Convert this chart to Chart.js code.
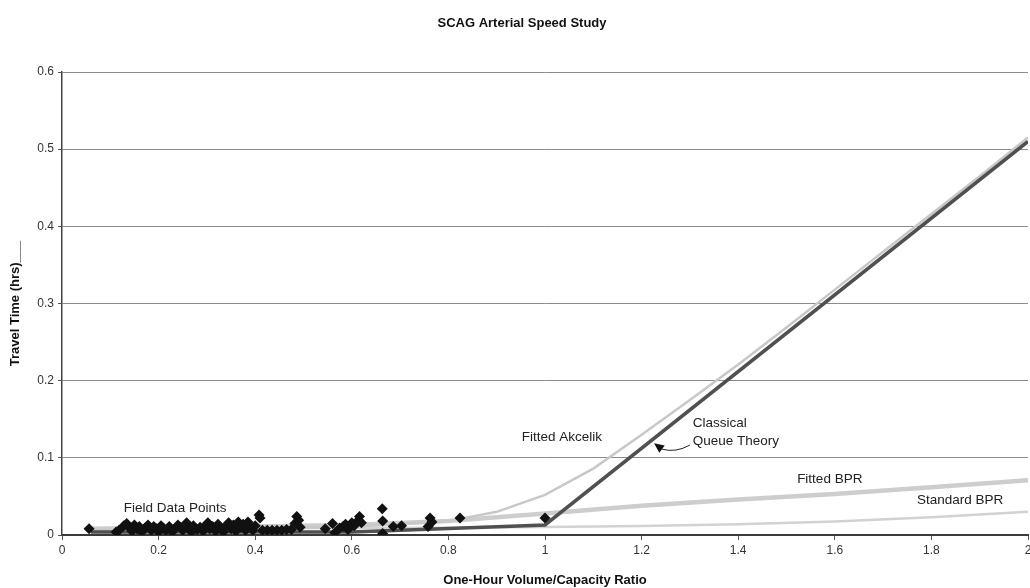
<!DOCTYPE html>
<html>
<head>
<meta charset="utf-8">
<title>SCAG Arterial Speed Study</title>
<script src="https://cdn.jsdelivr.net/npm/chart.js@4.4.0/dist/chart.umd.min.js"></script>
<style>
  html, body { margin: 0; padding: 0; background: #fff; overflow: hidden; }
  #wrap { width: 1030px; height: 588px; overflow: hidden; }
  canvas { display: block; }
</style>
</head>
<body>
<div id="wrap"><canvas id="speedChart" width="1040" height="588"></canvas></div>
<script>
// observed v/c ratio and travel time (hrs)
const fieldX = [0.056, 0.112, 0.118, 0.128, 0.134, 0.14, 0.145, 0.15, 0.155, 0.16, 0.165, 0.172, 0.178, 0.185,
  0.19, 0.196, 0.2, 0.205, 0.21, 0.215, 0.222, 0.228, 0.234, 0.24, 0.245, 0.25, 0.258, 0.262, 0.268, 0.272,
  0.28, 0.286, 0.292, 0.298, 0.302, 0.306, 0.312, 0.318, 0.323, 0.328, 0.334, 0.34, 0.345, 0.35, 0.355,
  0.36, 0.365, 0.37, 0.375, 0.38, 0.385, 0.39, 0.395, 0.4, 0.408, 0.41, 0.415, 0.425, 0.435, 0.445, 0.455,
  0.465, 0.475, 0.482, 0.486, 0.49, 0.493, 0.545, 0.56, 0.565, 0.575, 0.582, 0.587, 0.592, 0.6, 0.605,
  0.612, 0.616, 0.62, 0.663, 0.664, 0.664, 0.686, 0.703, 0.758, 0.762, 0.766, 0.824, 1.0];
const fieldY = [0.008, 0.004, 0.006, 0.012, 0.015, 0.009, 0.005, 0.013, 0.008, 0.011, 0.004, 0.009, 0.013, 0.006,
  0.011, 0.008, 0.004, 0.012, 0.009, 0.006, 0.011, 0.004, 0.008, 0.013, 0.01, 0.006, 0.016, 0.009, 0.004, 0.012,
  0.007, 0.01, 0.005, 0.013, 0.016, 0.008, 0.011, 0.005, 0.014, 0.009, 0.004, 0.012, 0.016, 0.008, 0.013,
  0.005, 0.017, 0.01, 0.014, 0.006, 0.017, 0.011, 0.006, 0.012, 0.026, 0.022, 0.006, 0.006, 0.006, 0.006, 0.006,
  0.007, 0.007, 0.015, 0.024, 0.019, 0.01, 0.008, 0.015, 0.003, 0.009, 0.011, 0.014, 0.007, 0.016, 0.012,
  0.018, 0.024, 0.016, 0.034, 0.018, 0.002, 0.011, 0.012, 0.011, 0.022, 0.017, 0.022, 0.022];

const queueX = [0.06, 0.6, 1.0, 2.0];
const queueY = [0.004, 0.004, 0.013, 0.51];

const akcelikX = [0.06, 0.4, 0.6, 0.7, 0.8, 0.9, 1.0, 1.1, 1.2, 1.3, 1.4, 1.5, 1.6, 1.7, 1.8, 1.9, 2.0];
const akcelikY = [0.006, 0.008, 0.011, 0.014, 0.018, 0.03, 0.052, 0.086, 0.13, 0.175, 0.221, 0.269, 0.318, 0.367, 0.416, 0.465, 0.515];

const fittedBprX = [0.06, 0.2, 0.4, 0.6, 0.8, 1.0, 1.2, 1.4, 1.6, 1.8, 2.0];
const fittedBprY = [0.008, 0.009, 0.011, 0.013, 0.018, 0.028, 0.038, 0.046, 0.053, 0.062, 0.071];

const standardBprX = [0.06, 0.6, 0.8, 1.0, 1.2, 1.4, 1.6, 1.8, 2.0];
const standardBprY = [0.0085, 0.009, 0.0095, 0.0103, 0.0117, 0.014, 0.0175, 0.023, 0.03];

const xTicks = [0, 0.2, 0.4, 0.6, 0.8, 1, 1.2, 1.4, 1.6, 1.8, 2];
const yTicks = [0, 0.1, 0.2, 0.3, 0.4, 0.5, 0.6];

const chartTitle = 'SCAG Arterial Speed Study';

// curve labels, anchored in data units (left edge, vertical middle)
const notes = [
  { text: 'Field Data Points', x: 0.128, y: 0.035 },
  { text: 'Fitted Akcelik', x: 0.952, y: 0.127 },
  { text: 'Classical', x: 1.306, y: 0.145 },
  { text: 'Queue Theory', x: 1.306, y: 0.122 },
  { text: 'Fitted BPR', x: 1.522, y: 0.0725 },
  { text: 'Standard BPR', x: 1.77, y: 0.045 }
];
const queueArrow = { fromX: 1.3, fromY: 0.1166, toX: 1.2257, toY: 0.119 };

const FONT = '"Liberation Sans", Arial, sans-serif';

function pairs(xs, ys) {
  return xs.map((x, i) => ({ x: x, y: ys[i] }));
}

function curve(label, xs, ys, color, width) {
  return {
    type: 'line',
    label: label,
    data: pairs(xs, ys),
    borderColor: color,
    borderWidth: width,
    pointRadius: 0,
    tension: 0,
    fill: false
  };
}

const labelPlugin = {
  id: 'curveLabels',
  afterDatasetsDraw(chart) {
    const ctx = chart.ctx;
    const xs = chart.scales.x, ys = chart.scales.y;
    ctx.save();

    // chart title
    ctx.font = 'bold 13px ' + FONT;
    ctx.fillStyle = '#111';
    ctx.textAlign = 'center';
    ctx.textBaseline = 'middle';
    ctx.fillText(chartTitle, 522, 23);

    ctx.font = '13.5px ' + FONT;
    ctx.fillStyle = '#222';
    ctx.textAlign = 'left';
    notes.forEach(n => {
      ctx.fillText(n.text, xs.getPixelForValue(n.x), ys.getPixelForValue(n.y));
    });

    // small curved pointer from the label to the queue line
    const x0 = xs.getPixelForValue(queueArrow.fromX), y0 = ys.getPixelForValue(queueArrow.fromY);
    const tx = xs.getPixelForValue(queueArrow.toX), ty = ys.getPixelForValue(queueArrow.toY);
    const ex = tx + 8, ey = ty + 6;
    ctx.strokeStyle = '#222';
    ctx.lineWidth = 1;
    ctx.beginPath();
    ctx.moveTo(x0, y0);
    ctx.quadraticCurveTo(x0 - 14, y0 + 8, ex, ey);
    ctx.stroke();
    const dx = tx - ex, dy = ty - ey, len = Math.hypot(dx, dy);
    const ux = dx / len, uy = dy / len;
    const bx = tx - ux * 10, by = ty - uy * 10;
    ctx.fillStyle = '#111';
    ctx.beginPath();
    ctx.moveTo(tx, ty);
    ctx.lineTo(bx - uy * 4.5, by + ux * 4.5);
    ctx.lineTo(bx + uy * 4.5, by - ux * 4.5);
    ctx.closePath();
    ctx.fill();
    ctx.restore();
  }
};

const bgPlugin = {
  id: 'whiteBg',
  beforeDraw(chart) {
    const ctx = chart.ctx;
    ctx.save();
    ctx.fillStyle = '#fff';
    ctx.fillRect(0, 0, chart.width, chart.height);
    ctx.restore();
  }
};

const fmt = v => String(+(+v).toFixed(1));

new Chart(document.getElementById('speedChart'), {
  type: 'scatter',
  data: {
    datasets: [
      {
        label: 'Field Data Points',
        data: pairs(fieldX, fieldY),
        pointStyle: 'rectRot',
        pointRadius: 5.5,
        backgroundColor: '#111',
        borderColor: '#111',
        borderWidth: 0
      },
      curve('Classical Queue Theory', queueX, queueY, '#505050', 3.5),
      curve('Fitted Akcelik', akcelikX, akcelikY, '#c8c8c8', 2.5),
      curve('Fitted BPR', fittedBprX, fittedBprY, '#cdcdcd', 4.5),
      curve('Standard BPR', standardBprX, standardBprY, '#d2d2d2', 2.5)
    ]
  },
  options: {
    responsive: false,
    animation: false,
    devicePixelRatio: 1,
    layout: { padding: { left: 0, right: 12, top: 72, bottom: 0 } },
    plugins: {
      legend: { display: false },
      tooltip: { enabled: false },
      title: { display: false }
    },
    scales: {
      x: {
        type: 'linear',
        min: 0,
        max: 2,
        afterBuildTicks: s => { s.ticks = xTicks.map(v => ({ value: v })); },
        afterFit: s => { s.height = 53; },
        grid: { drawOnChartArea: false, drawTicks: true, tickLength: 5, color: '#555' },
        border: { display: true, color: '#3a3a3a', width: 2 },
        ticks: { color: '#333', padding: 3, maxRotation: 0, font: { family: FONT, size: 12 }, callback: fmt },
        title: {
          display: true,
          text: 'One-Hour Volume/Capacity Ratio',
          color: '#111',
          font: { family: FONT, size: 13, weight: 'bold' },
          padding: { top: 3, bottom: 0 }
        }
      },
      y: {
        type: 'linear',
        min: 0,
        max: 0.6,
        afterBuildTicks: s => { s.ticks = yTicks.map(v => ({ value: v })); },
        afterFit: s => { s.width = 62; },
        grid: { color: '#8c8c8c', lineWidth: 1, drawTicks: true, tickLength: 4, tickColor: '#555' },
        border: { display: true, color: '#444', width: 1.5 },
        ticks: { color: '#333', padding: 4, font: { family: FONT, size: 12 }, callback: fmt },
        title: {
          display: true,
          text: 'Travel Time (hrs)___',
          color: '#111',
          font: { family: FONT, size: 13, weight: 'bold' },
          padding: { top: 8, bottom: 0 }
        }
      }
    }
  },
  plugins: [bgPlugin, labelPlugin]
});
</script>
</body>
</html>
